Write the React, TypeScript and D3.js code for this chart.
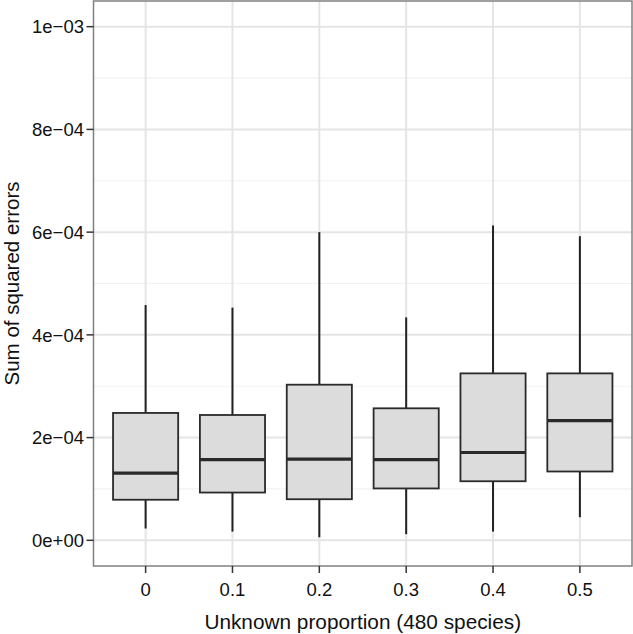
import React from "react";
import * as d3 from "d3";

const categories = ["0", "0.1", "0.2", "0.3", "0.4", "0.5"];
const lowerWhisker = [0.23e-4, 0.17e-4, 0.06e-4, 0.12e-4, 0.17e-4, 0.45e-4];
const q1 = [0.79e-4, 0.93e-4, 0.8e-4, 1.01e-4, 1.15e-4, 1.34e-4];
const medians = [1.31e-4, 1.57e-4, 1.58e-4, 1.57e-4, 1.71e-4, 2.33e-4];
const q3 = [2.48e-4, 2.44e-4, 3.03e-4, 2.57e-4, 3.25e-4, 3.25e-4];
const upperWhisker = [4.58e-4, 4.53e-4, 6.0e-4, 4.34e-4, 6.13e-4, 5.92e-4];
const majorTicks = [0, 2e-4, 4e-4, 6e-4, 8e-4, 1e-3];
const majorLabels = ["0e+00", "2e\u221204", "4e\u221204", "6e\u221204", "8e\u221204", "1e\u221203"];
const minorTicks = [1e-4, 3e-4, 5e-4, 7e-4, 9e-4];
const xTitle = "Unknown proportion (480 species)";
const yTitle = "Sum of squared errors";

export default function App() {
  const W = 633, H = 634;
  const left = 93.5, right = 632, top = 1, bottom = 566;
  const x = d3.scaleBand<string>().domain(categories).range([left, right]).paddingInner(0).paddingOuter(0.1);
  const y = d3.scaleLinear().domain([-5e-5, 1.05e-3]).range([bottom, top]);
  const bw = x.bandwidth() * 0.75;
  const font = "'Liberation Sans', Arial, Helvetica, sans-serif";
  const cx = (c: string) => (x(c) as number) + x.bandwidth() / 2;

  return (
    <svg width={W} height={H} style={{ position: "absolute", left: 0, top: 0 }}>
      <rect x={0} y={0} width={W} height={H} fill="#fff" />
      {minorTicks.map((t) => (
        <line key={"mn" + t} x1={left} x2={right} y1={y(t)} y2={y(t)} stroke="#f2f2f2" strokeWidth={1.2} />
      ))}
      {majorTicks.map((t) => (
        <line key={"mj" + t} x1={left} x2={right} y1={y(t)} y2={y(t)} stroke="#e5e5e5" strokeWidth={2} />
      ))}
      {categories.map((c) => (
        <line key={"vg" + c} x1={cx(c)} x2={cx(c)} y1={top} y2={bottom} stroke="#e5e5e5" strokeWidth={2} />
      ))}
      {categories.map((c, i) => {
        const m = cx(c);
        return (
          <g key={"b" + c}>
            <line x1={m} x2={m} y1={y(upperWhisker[i])} y2={y(q3[i])} stroke="#222" strokeWidth={2} />
            <line x1={m} x2={m} y1={y(q1[i])} y2={y(lowerWhisker[i])} stroke="#222" strokeWidth={2} />
            <rect
              x={m - bw / 2}
              y={y(q3[i])}
              width={bw}
              height={y(q1[i]) - y(q3[i])}
              fill="#dcdcdc"
              stroke="#2a2a2a"
              strokeWidth={1.8}
            />
            <line x1={m - bw / 2} x2={m + bw / 2} y1={y(medians[i])} y2={y(medians[i])} stroke="#2a2a2a" strokeWidth={3.2} />
          </g>
        );
      })}
      <rect x={left} y={top} width={right - left} height={bottom - top} fill="none" stroke="#808080" strokeWidth={1.5} />
      {majorTicks.map((t, i) => (
        <g key={"yt" + t}>
          <line x1={left - 7} x2={left} y1={y(t)} y2={y(t)} stroke="#333" strokeWidth={1.5} />
          <text x={left - 9.5} y={y(t)} dy="0.36em" textAnchor="end" fontFamily={font} fontSize={18.5} fill="#111">
            {majorLabels[i]}
          </text>
        </g>
      ))}
      {categories.map((c) => (
        <g key={"xt" + c}>
          <line x1={cx(c)} x2={cx(c)} y1={bottom} y2={bottom + 7} stroke="#333" strokeWidth={1.5} />
          <text x={cx(c)} y={596} textAnchor="middle" fontFamily={font} fontSize={18.5} fill="#111">
            {c}
          </text>
        </g>
      ))}
      <text x={(left + right) / 2} y={629} textAnchor="middle" fontFamily={font} fontSize={20.8} fill="#111">
        {xTitle}
      </text>
      <text
        transform={`translate(18.5, ${(top + bottom) / 2}) rotate(-90)`}
        textAnchor="middle"
        fontFamily={font}
        fontSize={20.5}
        fill="#111"
      >
        {yTitle}
      </text>
    </svg>
  );
}
